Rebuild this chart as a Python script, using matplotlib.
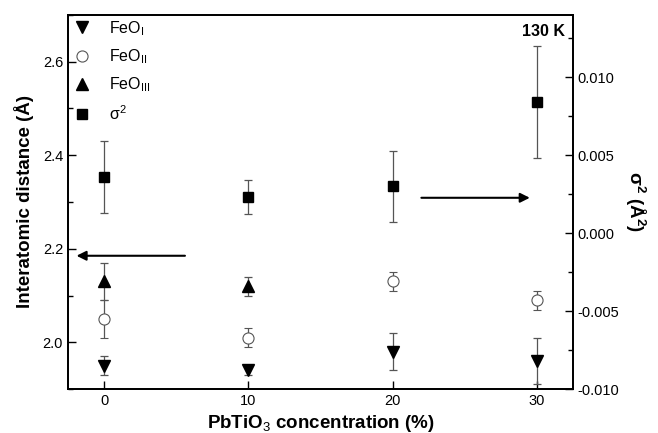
import numpy as np
import matplotlib
matplotlib.use("Agg")
import matplotlib.pyplot as plt

plt.rcParams['font.family'] = ['Liberation Sans', 'DejaVu Sans']
plt.rcParams['mathtext.fontset'] = 'custom'
plt.rcParams['mathtext.rm'] = 'Liberation Sans'
plt.rcParams['mathtext.bf'] = 'Liberation Sans:bold'

# PbTiO3 concentration (%)
conc = [0, 10, 20, 30]

# bond distances (Angstrom) and errors
feo1 = [1.95, 1.94, 1.98, 1.96]
feo1_err = [0.02, 0.01, 0.04, 0.05]
feo2 = [2.05, 2.01, 2.13, 2.09]
feo2_err = [0.04, 0.02, 0.02, 0.02]
conc3 = [0, 10]
feo3 = [2.13, 2.12]
feo3_err = [0.04, 0.02]

# sigma^2 (Angstrom^2), right axis
sig2 = [0.0036, 0.0023, 0.0030, 0.0084]
sig2_err = [0.0023, 0.0011, 0.0023, 0.0036]

fig = plt.figure(figsize=(6.58, 4.33), dpi=100)
ax = fig.add_axes([0.1033, 0.1016, 0.7675, 0.8638])
ax2 = ax.twinx()

ebkw = dict(ecolor='#555555', elinewidth=0.9, capsize=3, capthick=0.9, linestyle='none')
h1 = ax.errorbar(conc, feo1, yerr=feo1_err, marker='v', ms=9, mfc='black', mec='black', **ebkw)
h2 = ax.errorbar(conc, feo2, yerr=feo2_err, marker='o', ms=8, mfc='white', mec='#555555', mew=0.8, **ebkw)
h3 = ax.errorbar(conc3, feo3, yerr=feo3_err, marker='^', ms=9, mfc='black', mec='black', **ebkw)
h4 = ax2.errorbar(conc, sig2, yerr=sig2_err, marker='s', ms=6.5, mfc='black', mec='black', **ebkw)

ax.set_xlim(-2.5, 32.5)
ax.set_ylim(1.9, 2.7)
ax2.set_ylim(-0.010, 0.014)
ax.set_xticks([0, 10, 20, 30])
ax.set_yticks([2.0, 2.2, 2.4, 2.6])
ax.set_yticks(np.arange(1.9, 2.71, 0.1), minor=True)
ax2.set_yticks([-0.010, -0.005, 0.000, 0.005, 0.010])
ax2.set_yticks(np.arange(-0.0075, 0.0126, 0.005), minor=True)
ax2.set_yticklabels(['-0.010', '-0.005', '0.000', '0.005', '0.010'])

for a in (ax, ax2):
    a.tick_params(direction='in', length=6, width=1, labelsize=10.5)
    a.tick_params(which='minor', direction='in', length=3.5, width=1)
    for s in a.spines.values():
        s.set_linewidth(1.3)
ax.tick_params(axis='y', right=False)
ax2.tick_params(axis='x', top=False)

ax.set_xlabel('PbTiO$_3$ concentration (%)', fontsize=13.5, fontweight='bold', labelpad=4)
ax.set_ylabel('Interatomic distance (Å)', fontsize=13.5, fontweight='bold', labelpad=6)
ax2.set_ylabel('σ$^\\mathbf{2}$ (Å$^\\mathbf{2}$)', fontsize=13.5, fontweight='bold',
               rotation=270, labelpad=20)

ax.text(0.985, 0.975, '130 K', transform=ax.transAxes, ha='right', va='top',
        fontsize=11.5, fontweight='bold')

ax.annotate('', xy=(-2.1, 2.185), xytext=(5.8, 2.185),
            arrowprops=dict(arrowstyle='-|>', color='black', lw=1.5, mutation_scale=14))
ax2.annotate('', xy=(29.7, 0.00227), xytext=(21.8, 0.00227),
             arrowprops=dict(arrowstyle='-|>', color='black', lw=1.5, mutation_scale=14))

leg = ax.legend([h1[0], h2[0], h3[0], h4[0]],
                ['FeO$_{\\mathregular{I}}$', 'FeO$_{\\mathregular{II}}$',
                 'FeO$_{\\mathregular{III}}$', 'σ$^2$'],
                loc='upper left', bbox_to_anchor=(-0.008, 1.015), frameon=False,
                fontsize=11.5, labelspacing=0.6,
                handlelength=1.0, handletextpad=1.2, borderaxespad=0.2)

fig.savefig('out.png', dpi=100)
